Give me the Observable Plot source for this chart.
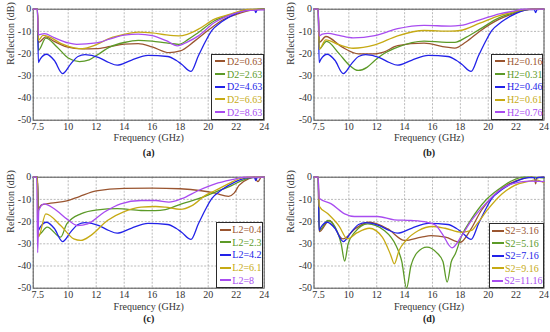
<!DOCTYPE html>
<html>
<head>
<meta charset="utf-8">
<script src="https://cdn.jsdelivr.net/npm/d3@7"></script>
<script src="https://cdn.jsdelivr.net/npm/@observablehq/plot@0.6"></script>
<style>
  html, body { margin: 0; padding: 0; background: #fff; }
  #fig { position: relative; width: 550px; height: 332px; background: #fff; overflow: hidden;
         font-family: "Liberation Serif", "Times New Roman", serif; }
  .cell { position: absolute; width: 275px; height: 166px; }
  .cell svg, .cell svg text { font-family: "Liberation Serif", "Times New Roman", serif !important; }
  .legend { position: absolute; box-sizing: border-box; border: 1px solid #2a2a2a; background: #fff;
            display: flex; flex-direction: column; justify-content: center;
            font-family: "Liberation Serif", "Times New Roman", serif; font-size: 10px; }
  .legend .row { display: flex; align-items: center; height: 12.7px; white-space: nowrap; }
  .legend .sw { display: inline-block; height: 0; border-top: 2px solid; }
</style>
</head>
<body>
<div id="fig"></div>
<script>
const FONT = '"Liberation Serif", "Times New Roman", serif';
const xTicks = [7.5, 10, 12, 14, 16, 18, 20, 22, 24];
const yTicks = [0, -10, -20, -30, -40, -50];
const colors = ["#9a5530", "#5c9a28", "#2222e8", "#c6aa14", "#a84cf0"];

// Baseline design curve (blue), same in all four panels
const baseBlue = [[7.5,0],[7.8,0],[7.87,-24],[8.0,-22.5],[8.45,-20.3],[9.0,-23],[9.6,-29],[10.2,-24.5],[10.7,-21.3],[11.2,-20.5],[12.2,-21.8],[12.9,-24],[13.5,-25.2],[14.5,-23],[15.7,-20.8],[17.1,-21.3],[17.7,-23],[18.1,-24.8],[18.77,-28],[19.3,-21],[19.77,-15],[20.25,-9.7],[20.96,-5.7],[21.9,-2.2],[22.9,-0.2],[23.3,-0.2],[23.4,-1.5],[23.5,-0.2],[24,0]];

// (a) D2
const namesA = ["D2=0.63", "D2=2.63", "D2=4.63", "D2=6.63", "D2=8.63"];
const a063 = [[7.5,0],[7.8,0],[7.87,-15],[8.4,-12.5],[9,-14.5],[9.9,-17],[11,-17.9],[12,-17.8],[13,-16.8],[14,-15.7],[15,-15.5],[16,-17],[17.2,-19.6],[18,-18.8],[19,-14.5],[20,-9.5],[21,-5],[22,-2.4],[23,-0.5],[24,0]];
const a263 = [[7.5,0],[7.8,0],[7.87,-18.5],[8.4,-13],[9.2,-17],[10,-22],[10.8,-23.6],[11.5,-22.8],[12.1,-20.5],[13,-17],[14,-15],[15,-14],[16,-14.4],[17,-15.2],[17.9,-15.8],[18.6,-13.5],[19.3,-10.5],[20.45,-5.2],[21.7,-2.2],[22.9,-0.2],[24,0]];
const a463 = baseBlue;
const a663 = [[7.5,0],[7.8,0],[7.87,-14],[8.2,-11.8],[8.6,-12.3],[9.5,-15.5],[10.5,-17.5],[11,-17.8],[12,-16],[13,-13],[14,-11.3],[15,-10.3],[16,-10.7],[17,-11.6],[17.9,-12],[18.5,-11.3],[19.3,-9],[20.45,-4.5],[21.7,-2],[22.9,-0.1],[24,0]];
const a863 = [[7.5,0],[7.8,0],[7.87,-11.5],[8.3,-11],[9,-12.8],[10,-15.2],[10.6,-15.8],[12,-15.2],[13,-13.4],[14,-11.7],[15,-11.2],[16,-11.9],[17,-14.2],[17.8,-16.5],[18.5,-14.8],[19.3,-12],[20.45,-6],[21.7,-2.3],[22.9,-0.5],[24,-0.3]];

// (b) H2
const namesB = ["H2=0.16", "H2=0.31", "H2=0.46", "H2=0.61", "H2=0.76"];
const b016 = [[7.5,0],[7.8,0],[7.87,-15],[8.35,-12.3],[9.5,-17],[10.7,-20.1],[11.86,-20.1],[12.5,-19.3],[13.5,-16.4],[15.4,-15.3],[17,-17.1],[17.6,-17.5],[18.4,-14.8],[19.4,-9.9],[20.8,-4.5],[21.7,-2.2],[22.6,-0.5],[23.2,0],[24,0]];
const b031 = [[7.5,0],[7.8,0],[7.87,-18],[8.4,-14.5],[9.3,-20],[10,-25],[10.68,-27.6],[11.3,-26.2],[11.86,-23.1],[12.5,-20.1],[13.5,-17.1],[15.4,-14.4],[17,-14.9],[17.6,-14.9],[18.4,-12.7],[19.4,-9],[20.8,-3.8],[21.7,-1.8],[22.6,-0.3],[23.2,0],[24,0]];
const b046 = baseBlue;
const b061 = [[7.5,0],[7.8,0],[7.87,-18],[8.35,-13.8],[9.3,-16],[10.3,-17.6],[11.86,-16.1],[13.5,-12],[15.4,-9.6],[17.3,-9.9],[18,-9.6],[19.4,-6.3],[20.8,-2.9],[21.7,-1.4],[22.6,-0.2],[24,0]];
const b076 = [[7.5,0],[7.8,0],[7.87,-12],[8.1,-11.2],[8.5,-10.9],[9.3,-11.8],[10.3,-12.9],[11.86,-11.9],[13.5,-8.8],[15.4,-7.3],[17.3,-7.6],[18,-7.3],[19.4,-4.8],[20.8,-2.1],[21.7,-1],[22.6,0],[24,0]];

// (c) L2
const namesC = ["L2=0.4", "L2=2.3", "L2=4.2", "L2=6.1", "L2=8"];
const c04 = [[7.5,0],[7.8,0],[7.87,-14],[8.1,-12.5],[8.75,-11.7],[9.9,-10.7],[10.8,-8.7],[12,-6.2],[14,-5],[16,-4.9],[18,-5.2],[19.5,-6.1],[20.5,-7.2],[21.46,-8.6],[21.85,-7.2],[22.2,-3.7],[22.9,-0.7],[23.3,0],[23.55,-2],[23.8,0],[24,0]];
const c23 = [[7.5,0],[7.8,0],[7.87,-26],[8.5,-22.5],[9.46,-27],[9.9,-21],[10.9,-16.5],[12.1,-14.7],[13.5,-14.2],[15.2,-15],[16.2,-15.1],[16.94,-14.6],[18.1,-12],[19.3,-9.7],[20.5,-6.7],[21.7,-3.7],[22.4,-1.5],[22.9,-0.4],[23.3,0],[24,0]];
const c42 = baseBlue;
const c61 = [[7.5,0],[7.8,0],[7.87,-27],[8.4,-16.5],[9.46,-21.8],[10.4,-27.8],[10.9,-28.5],[11.6,-26.3],[12.8,-19.5],[14,-15.5],[15.2,-13.5],[16.25,-13.2],[16.94,-13.5],[18,-14.5],[18.84,-12.8],[19.8,-8.2],[20.5,-6],[21.5,-2.8],[22.2,-0.7],[22.9,0],[24,0]];
const c8 = [[7.5,0],[7.75,0],[7.82,-34],[7.9,-15],[8.27,-12],[9,-14.2],[9.94,-19],[10.66,-21.8],[11.4,-21],[12.56,-15.8],[13.75,-12],[15.2,-10.5],[16.25,-10.5],[17.2,-11.2],[18.1,-9.7],[19.3,-6],[20.5,-3],[21.7,-1.1],[22.6,0],[24,0]];

// (d) S2
const namesD = ["S2=3.16", "S2=5.16", "S2=7.16", "S2=9.16", "S2=11.16"];
const d316 = [[7.5,0],[7.8,0],[7.87,-24.5],[8.6,-19.5],[9.57,-27.8],[10.5,-23],[11.47,-20.3],[12.8,-23.3],[14,-28.5],[15.2,-27],[15.9,-26.3],[16.93,-27],[18,-29.3],[18.7,-24],[19.5,-15],[20.5,-7.5],[21.5,-3],[22.4,-0.7],[23.1,0],[23.3,-0.2],[23.4,-3],[23.5,-0.2],[24,0]];
const d516 = [[7.5,0],[7.8,0],[7.87,-24],[8.5,-19.5],[9.2,-25],[9.45,-30],[9.7,-37.8],[9.95,-30],[10.4,-25],[11.36,-21],[12.54,-24],[13.4,-31],[13.8,-38],[14.14,-50],[14.45,-40],[14.9,-34],[15.6,-31.5],[16.3,-34],[16.75,-38],[17.05,-47.3],[17.35,-38],[17.64,-34.5],[18.1,-26.3],[18.8,-18.8],[19.8,-10.5],[20.8,-5.2],[21.7,-1.6],[22.6,0],[24,-0.3]];
const d716 = baseBlue;
const d916 = [[7.5,0],[7.8,0],[7.87,-13],[8.5,-16.5],[9.3,-22],[9.9,-27.8],[10.6,-25],[11.47,-23],[12.4,-27],[13.0,-35],[13.26,-39],[13.6,-33],[14.1,-28.5],[15,-24],[16,-22.2],[16.9,-23],[18.1,-24.8],[18.8,-24],[19.2,-21],[20,-14.3],[21,-7.5],[21.9,-3.7],[22.9,-1.9],[23.4,-1.2],[24,-2.5]];
const d1116 = [[7.5,0],[7.8,0],[7.87,-9.5],[8.74,-12],[9.7,-16.5],[10.4,-17.7],[12.07,-17.7],[13.26,-19.2],[14.45,-19.5],[15.6,-20.3],[16.2,-21.5],[16.7,-25.5],[17.4,-31.8],[18.1,-26.3],[18.8,-19.5],[19.8,-12],[20.8,-6],[21.7,-3],[22.9,-1.8],[24,-2]];

const panels = [
  {tag: "(a)", names: namesA, series: [a063, a263, a463, a663, a863], left: 0, top: 0,
   ml: 32.7, mr: 11.3, mt: 8.7, mb: 46.3, tickPad: 3, xlabDy: 20.5, tagDy: 35.5, ylabDx: -22.5,
   leg: {left: 211, top: 53.5, width: 52.5, height: 66.5, pad: 3, len: 10, gap: 2}},
  {tag: "(b)", names: namesB, series: [b016, b031, b046, b061, b076], left: 275, top: 0,
   ml: 38.5, mr: 6.5, mt: 8.7, mb: 46.3, tickPad: 3, xlabDy: 20.5, tagDy: 35.5, ylabDx: -23.5,
   leg: {left: 216.3, top: 53.7, width: 52.2, height: 66.3, pad: 3, len: 10, gap: 2}},
  {tag: "(c)", names: namesC, series: [c04, c23, c42, c61, c8], left: 0, top: 166,
   ml: 32.7, mr: 11.3, mt: 10.7, mb: 44.3, tickPad: 3, xlabDy: 21.5, tagDy: 33.5, ylabDx: -22.5,
   leg: {left: 216.3, top: 55.7, width: 46.7, height: 66.5, pad: 2.4, len: 11, gap: 1.6}},
  {tag: "(d)", names: namesD, series: [d316, d516, d716, d916, d1116], left: 275, top: 166,
   ml: 38.5, mr: 6.5, mt: 10.7, mb: 44.3, tickPad: 3, xlabDy: 21.5, tagDy: 33.5, ylabDx: -23.5,
   leg: {left: 214, top: 57.3, width: 54.5, height: 64.7, pad: 2.3, len: 11.7, gap: 1}}
];

const fig = document.getElementById("fig");
const fmtY = d => (d < 0 ? "-" + Math.abs(d) : String(d));
const txt = {fontFamily: FONT, fontSize: 10, fill: "#333"};

for (const p of panels) {
  const data = p.series.flatMap((pts, i) => pts.map(([f, r]) => ({f, r, name: p.names[i]})));
  const svg = Plot.plot({
    width: 275, height: 166,
    marginLeft: p.ml, marginRight: p.mr, marginTop: p.mt, marginBottom: p.mb,
    style: {fontFamily: FONT, fontSize: "10px", color: "#333", background: "transparent", overflow: "visible"},
    x: {domain: [7.5, 24]},
    y: {domain: [-50, 0]},
    color: {domain: p.names, range: colors},
    marks: [
      Plot.gridX(xTicks, {stroke: "#a8a8a8", strokeOpacity: 1, strokeDasharray: "2,1.5", strokeWidth: 0.8}),
      Plot.gridY(yTicks, {stroke: "#a8a8a8", strokeOpacity: 1, strokeDasharray: "2,1.5", strokeWidth: 0.8}),
      Plot.frame({stroke: "#555", strokeWidth: 1}),
      Plot.axisX(xTicks.slice(0, 1), {tickSize: 0, tickPadding: p.tickPad, tickFormat: d => String(d), label: null, dx: 4.5, ...txt}),
      Plot.axisX(xTicks.slice(1), {tickSize: 0, tickPadding: p.tickPad, tickFormat: d => String(d), label: null, ...txt}),
      Plot.axisY(yTicks, {tickSize: 0, tickPadding: 2, tickFormat: fmtY, label: null, ...txt}),
      Plot.line(data, {x: "f", y: "r", z: "name", stroke: "name", curve: "monotone-x", strokeWidth: 1.3}),
      Plot.text(["Frequency (GHz)"], {text: d => d, frameAnchor: "bottom", dy: p.xlabDy, ...txt}),
      Plot.text(["Reflection (dB)"], {text: d => d, frameAnchor: "left", rotate: -90, dx: p.ylabDx, ...txt}),
      Plot.text([p.tag], {text: d => d, frameAnchor: "bottom", dy: p.tagDy, fontWeight: "bold", ...txt, fill: "#222"})
    ]
  });
  const cell = document.createElement("div");
  cell.className = "cell";
  cell.style.left = p.left + "px";
  cell.style.top = p.top + "px";
  cell.appendChild(svg);

  const leg = document.createElement("div");
  leg.className = "legend";
  leg.style.left = p.leg.left + "px";
  leg.style.top = p.leg.top + "px";
  leg.style.width = p.leg.width + "px";
  leg.style.height = p.leg.height + "px";
  p.names.forEach((n, i) => {
    const row = document.createElement("div");
    row.className = "row";
    const sw = document.createElement("span");
    sw.className = "sw";
    sw.style.borderTopColor = colors[i];
    sw.style.width = p.leg.len + "px";
    sw.style.marginLeft = p.leg.pad + "px";
    sw.style.marginRight = p.leg.gap + "px";
    const tx = document.createElement("span");
    tx.textContent = n;
    tx.style.color = colors[i];
    row.appendChild(sw);
    row.appendChild(tx);
    leg.appendChild(row);
  });
  cell.appendChild(leg);
  fig.appendChild(cell);
}
</script>
</body>
</html>
